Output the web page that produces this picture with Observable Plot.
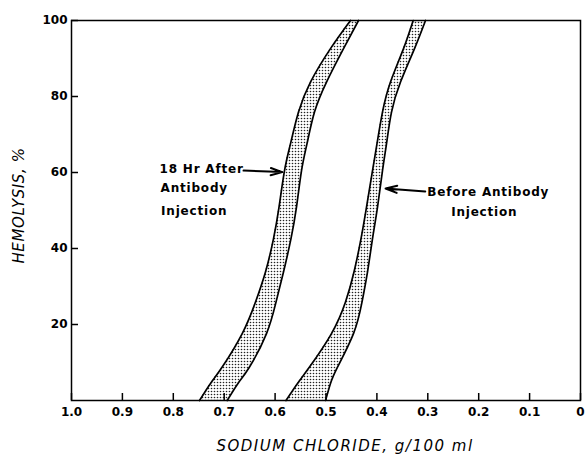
<!DOCTYPE html>
<html><head><meta charset="utf-8">
<script src="https://cdn.jsdelivr.net/npm/d3@7"></script>
<script src="https://cdn.jsdelivr.net/npm/@observablehq/plot@0.6"></script>
<style>
body{margin:0;background:#fff}
.ann text{letter-spacing:0.8px}
.xtitle text{letter-spacing:1.5px}
.ytitle text{letter-spacing:0.6px}
</style>
</head><body><div id="chart"></div>
<script>
// Hemolysis levels (%) at which band boundaries were read
const hemolysis   = [0, 4.5, 8.8, 17.6, 25.9, 33.8, 42.6, 50.9, 60.5, 67.6, 75.9, 83.8, 92.6, 100];
// "18 Hr After Antibody Injection" band (NaCl g/100 ml)
const afterLeft   = [0.7485, 0.7269, 0.7039, 0.6646, 0.6385, 0.6189, 0.6031, 0.5923, 0.5815, 0.5697, 0.5540, 0.5305, 0.4912, 0.4519];
const afterRight  = [0.6941, 0.6729, 0.6503, 0.6169, 0.5982, 0.5835, 0.5688, 0.5580, 0.5481, 0.5373, 0.5226, 0.4990, 0.4656, 0.4361];
// "Before Antibody Injection" band
const beforeLeft  = [0.5786, 0.5560, 0.5324, 0.4892, 0.4617, 0.4450, 0.4312, 0.4204, 0.4086, 0.3998, 0.3890, 0.3733, 0.3477, 0.3287];
const beforeRight = [0.5010, 0.4912, 0.4774, 0.4460, 0.4293, 0.4185, 0.4086, 0.3988, 0.3890, 0.3811, 0.3713, 0.3536, 0.3261, 0.3045];

const xTicks = [1.0, 0.9, 0.8, 0.7, 0.6, 0.5, 0.4, 0.3, 0.2, 0.1, 0];
const yTicks = [20, 40, 60, 80, 100];
const xTitle = "SODIUM CHLORIDE, g/100 ml";
const yTitle = "HEMOLYSIS, %";

const labelsStart = [
  {text: "18 Hr After", x: 0.827, y: 60.8},
  {text: "Antibody",    x: 0.825, y: 55.8},
  {text: "Injection",   x: 0.824, y: 49.8},
  {text: "Before Antibody", x: 0.301, y: 54.8}
];
const labelsEnd = [
  {text: "Injection",   x: 0.124, y: 49.6}
];
const arrows = [
  {x1: 0.662, y1: 60.5, x2: 0.586, y2: 60.1},
  {x1: 0.305, y1: 55.0, x2: 0.383, y2: 55.8}
];

const rows = hemolysis.map((h, i) => ({h, al: afterLeft[i], ar: afterRight[i], bl: beforeLeft[i], br: beforeRight[i]}));

const font = "DejaVu Sans";
const curve = "natural";
const edge = {stroke: "#000", strokeWidth: 1.7, curve};

const svg = Plot.plot({
  width: 586, height: 456,
  marginLeft: 71, marginRight: 6, marginTop: 20, marginBottom: 56,
  style: {fontFamily: font, background: "#fff", color: "#000"},
  x: {domain: [0, 1], reverse: true, label: null},
  y: {domain: [0, 100], label: null},
  marks: [
    Plot.areaX(rows, {y: "h", x1: "al", x2: "ar", fill: "url(#stipple)", curve}),
    Plot.areaX(rows, {y: "h", x1: "bl", x2: "br", fill: "url(#stipple)", curve}),
    Plot.line(rows, {x: "al", y: "h", ...edge}),
    Plot.line(rows, {x: "ar", y: "h", ...edge}),
    Plot.line(rows, {x: "bl", y: "h", ...edge}),
    Plot.line(rows, {x: "br", y: "h", ...edge}),
    Plot.frame({stroke: "#000", strokeWidth: 1.5}),
    Plot.axisY({ticks: yTicks, tickSize: -7, tickPadding: 11, fontSize: 12, fontWeight: "bold", label: null, strokeWidth: 1.5}),
    Plot.axisX({ticks: xTicks, tickSize: -7, tickPadding: 14, fontSize: 12, fontWeight: "bold", label: null, strokeWidth: 1.5,
      tickFormat: d => d === 0 ? "0" : d.toFixed(1)}),
    Plot.text([xTitle], {frameAnchor: "bottom", textAnchor: "middle", lineAnchor: "middle", dx: 19, dy: 46, fontSize: 15, fontStyle: "italic", fill: "#000", className: "xtitle"}),
    Plot.text([yTitle], {frameAnchor: "left", textAnchor: "middle", lineAnchor: "middle", rotate: -90, dx: -52, dy: -5, fontSize: 15, fontStyle: "italic", fill: "#000", className: "ytitle"}),
    Plot.text(labelsStart, {x: "x", y: "y", text: "text", textAnchor: "start", fontSize: 12, fontWeight: "bold", fill: "#000", className: "ann"}),
    Plot.text(labelsEnd, {x: "x", y: "y", text: "text", textAnchor: "end", fontSize: 12, fontWeight: "bold", fill: "#000", className: "ann"}),
    Plot.arrow(arrows, {x1: "x1", y1: "y1", x2: "x2", y2: "y2", stroke: "#000", strokeWidth: 2, headLength: 9, headAngle: 35})
  ]
});
svg.insertAdjacentHTML("afterbegin",
  `<defs><pattern id="stipple" width="3" height="3" patternUnits="userSpaceOnUse">
     <rect width="3" height="3" fill="#fff"/>
     <circle cx="1.5" cy="1.5" r="0.8" fill="#222"/>
   </pattern></defs>`);
document.getElementById("chart").appendChild(svg);
</script>
</body></html>
